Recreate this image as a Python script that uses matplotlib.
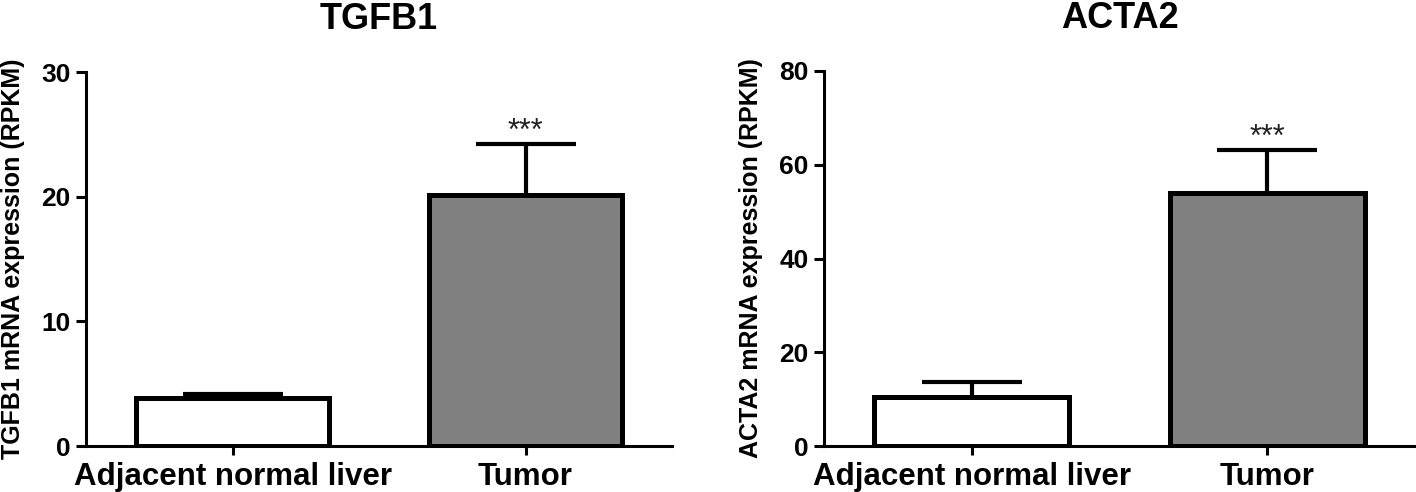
import matplotlib
matplotlib.use("Agg")
import matplotlib.pyplot as plt
import numpy as np

plt.rcParams['font.family'] = ['Liberation Sans', 'DejaVu Sans']

categories = ["Adjacent normal liver", "Tumor"]
titles = ["TGFB1", "ACTA2"]
ylabels = ["TGFB1 mRNA expression (RPKM)", "ACTA2 mRNA expression (RPKM)"]
tgfb1_mean = [3.85, 20.1]
tgfb1_sem = [0.35, 4.1]
acta2_mean = [10.4, 54.0]
acta2_sem = [3.3, 9.1]
means = [tgfb1_mean, acta2_mean]
sems = [tgfb1_sem, acta2_sem]
yticks = [[0, 10, 20, 30], [0, 20, 40, 60, 80]]
ylims = [30, 80]
signif = ["", "***"]
bar_colors = ["white", "#808080"]

W, H = 1416, 492
fig = plt.figure(figsize=(W / 100, H / 100), dpi=100)
boxes = [(86, 72, 672, 446), (824, 71, 1415, 446)]

for i in range(2):
    x0, y0, x1, y1 = boxes[i]
    ax = fig.add_axes([x0 / W, 1 - y1 / H, (x1 - x0) / W, (y1 - y0) / H])
    xpos = np.arange(len(categories))
    ax.bar(xpos, means[i], width=0.66, color=bar_colors, edgecolor="black",
           linewidth=3.6, zorder=3)
    eb = ax.errorbar(xpos, means[i], yerr=[np.zeros(len(xpos)), sems[i]],
                     fmt="none", ecolor="black", elinewidth=3.0, capsize=36,
                     capthick=3.0, zorder=2)
    caplines = eb[1]
    if len(caplines) > 0:
        caplines[0].set_visible(False)
    for j, s in enumerate(signif):
        if s:
            ax.annotate(s, (xpos[j], means[i][j] + sems[i][j]),
                        xytext=(0, 3), textcoords="offset points",
                        ha="center", va="baseline", fontsize=22,
                        color="#222222")
    ax.set_xlim(-0.5, 1.5)
    ax.set_ylim(0, ylims[i])
    ax.set_yticks(yticks[i])
    ax.set_xticks(xpos)
    ax.set_xticklabels(categories, fontsize=22.5, fontweight="bold")
    for lab in ax.get_yticklabels():
        lab.set_fontsize(19)
        lab.set_fontweight("bold")
    ax.tick_params(axis="y", length=7.5, width=2.2, pad=3.5)
    ax.tick_params(axis="x", length=6.5, width=2.2, pad=5)
    for sp in ["top", "right"]:
        ax.spines[sp].set_visible(False)
    for sp in ["left", "bottom"]:
        ax.spines[sp].set_linewidth(2.2)
    ax.set_ylabel(ylabels[i], fontsize=18, fontweight="bold")
    ax.yaxis.set_label_coords(-0.104, 0.5)
    ax.set_title(titles[i], fontsize=26, fontweight="bold", pad=31)

fig.savefig("out.png", dpi=100)
